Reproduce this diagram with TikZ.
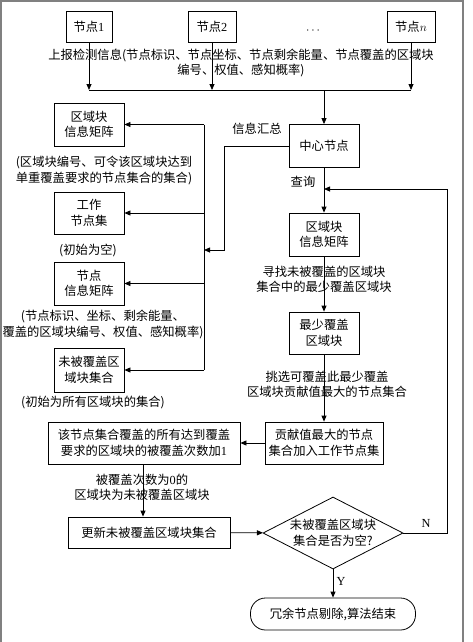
\documentclass[tikz,border=0pt]{standalone}
\usepackage{fontspec}
\setmainfont{Noto Sans CJK SC}
\newfontfamily\latin{Liberation Serif}
\usepackage{tikz}
\usetikzlibrary{arrows.meta,shapes.geometric}

\begin{document}
\begin{tikzpicture}[x=1pt,y=1pt]
\tikzstyle{every node}+=[inner sep=0pt, align=center, font=\fontsize{12.3}{15.5}\selectfont]
\tikzstyle{blk}=[draw, line width=0.8pt, minimum width=70, minimum height=43]
\tikzstyle{arr}=[line width=0.8pt, -{Triangle[length=6pt,width=5pt]}]
\tikzstyle{ln}=[line width=0.8pt]
\useasboundingbox (0,0) rectangle (473,-642);
\draw [gray, line width=1.5pt] (1,-642) -- (1,-1) -- (463,-1) -- (463,-642);
\node [blk, minimum width=46, minimum height=31] (n1) at (89,-26.5) {节点{\latin 1}};
\node [blk, minimum width=48, minimum height=31] (n2) at (212,-26.5) {节点{\latin 2}};
\node (dots) at (313,-31) {$\cdots$};
\node [blk, minimum width=48, minimum height=31] (nn) at (411,-26.5) {节点$n$};
\node (report) at (241,-63) {上报检测信息(节点标识、节点坐标、节点剩余能量、节点覆盖的区域块\\编号、权值、感知概率)};
\coordinate (busL) at (89,-90);
\coordinate (busM) at (324,-90);
\coordinate (busR) at (411,-90);
\draw [arr] (n1) -- (busL);
\draw [arr] (n2) -- (n2 |- busL);
\draw [arr] (nn) -- (busR);
\draw [ln] (busL) -- (busR);
\node [blk] (center) at (324,-146) {中心节点};
\draw [arr] (busM) -- (center);
\node (collect) at (257,-129) {信息汇总};
\node [blk] (bmat) at (89,-124.5) {区域块\\信息矩阵};
\node (bmatinfo) at (104,-170.5) {(区域块编号、可令该区域块达到\\单重覆盖要求的节点集合的集合)};
\node [blk, minimum height=42] (work) at (89,-213) {工作\\节点集};
\node (workinfo) at (88,-250) {(初始为空)};
\node [blk] (nmat) at (89,-283.5) {节点\\信息矩阵};
\node (nmatinfo) at (103,-324.5) {(节点标识、坐标、剩余能量、\\覆盖的区域块编号、权值、感知概率)};
\node [blk, minimum height=44] (unc) at (89,-370) {未被覆盖区\\域块集合};
\node (uncinfo) at (93,-403) {(初始为所有区域块的集合)};
\coordinate (lbusT) at (204,-124.5);
\coordinate (lbusB) at (204,-370);
\coordinate (hz) at (224,-250);
\draw [ln] (lbusT) -- (lbusB);
\draw [arr] (lbusT) -- (bmat);
\draw [arr] (work -| lbusT) -- (work);
\draw [arr] (nmat -| lbusT) -- (nmat);
\draw [arr] (lbusB) -- (unc);
\draw [arr] (center.west) -| (hz) -- (hz -| lbusT);
\node [blk] (query) at (324,-234.5) {区域块\\信息矩阵};
\node (querylbl) at (303,-182) {查询};
\draw [arr] (center) -- (query);
\node [blk, minimum height=42] (least) at (324,-333) {最少覆盖\\区域块};
\node (find) at (324,-279.5) {寻找未被覆盖的区域块\\集合中的最少覆盖区域块};
\draw [arr] (query) -- (least);
\node [blk, minimum width=118, minimum height=42] (add) at (324,-443) {贡献值最大的节点\\集合加入工作节点集};
\node (pick) at (327,-384.5) {挑选可覆盖此最少覆盖\\区域块贡献值最大的节点集合};
\draw [arr] (least) -- (add);
\node [blk, minimum width=192, minimum height=42] (inc) at (144,-443) {该节点集合覆盖的所有达到覆盖\\要求的区域块的被覆盖次数加{\latin 1}};
\draw [arr] (add) -- (inc);
\node [blk, minimum width=162, minimum height=31] (upd) at (149,-532.5) {更新未被覆盖区域块集合};
\node (zero) at (142,-487.5) {被覆盖次数为{\latin 0}的\\区域块为未被覆盖区域块};
\draw [arr] (inc.south -| 143,0) -- (upd.north -| 143,0);
\node [draw, ln, diamond, aspect=1.94, minimum width=140, minimum height=72] (empty) at (333,-533) {未被覆盖区域块\\集合是否为空?};
\draw [arr] (upd) -- (empty);
\coordinate (loop) at (447,-189);
\coordinate (qin) at (324,-189);
\draw [arr] (empty.east) -| (loop) -- (qin);
\node (no) at (426,-523) {\latin N};
\node [draw, ln, rounded corners=15pt, minimum width=165, minimum height=32] (done) at (333,-614) {冗余节点剔除,算法结束};
\draw [arr] (empty) -- (done);
\node (yes) at (341,-581) {\latin Y};
\end{tikzpicture}
\end{document}
